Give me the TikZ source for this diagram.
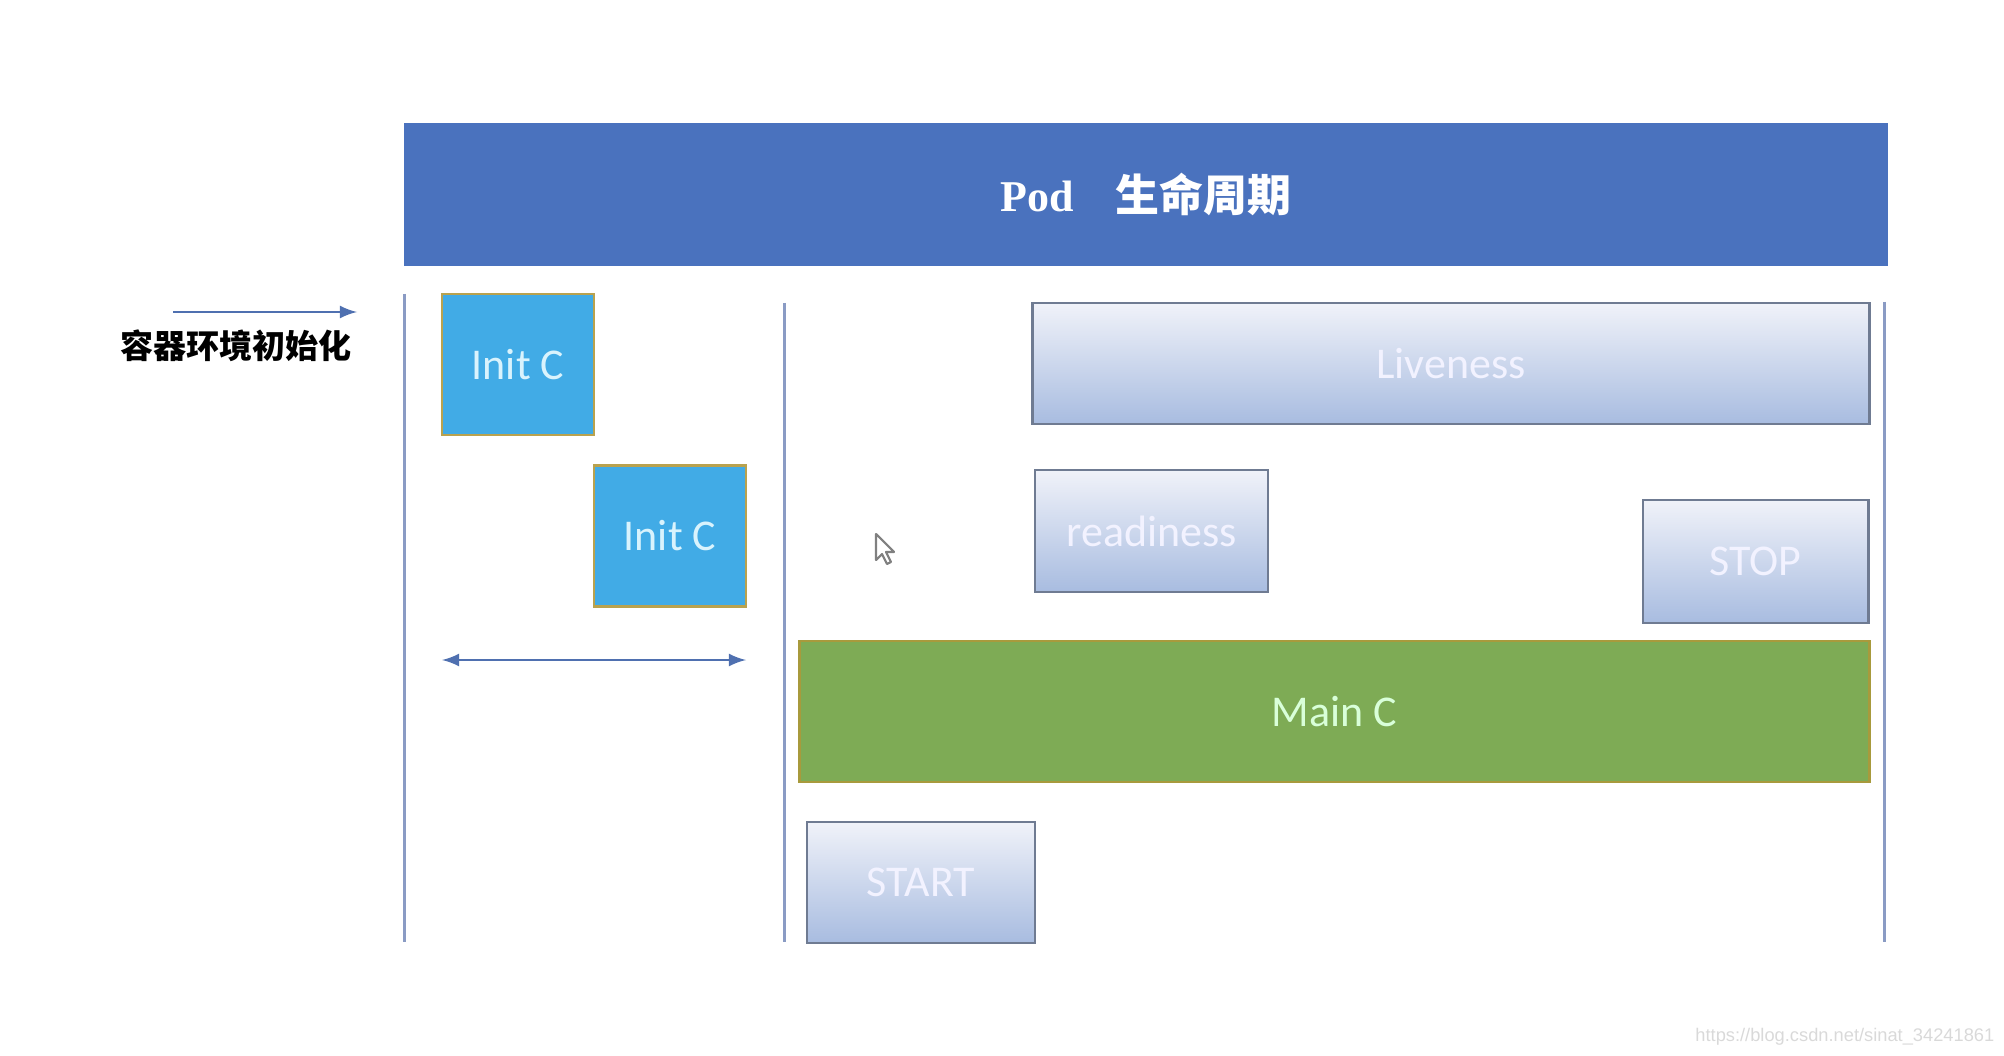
\documentclass[tikz,border=0pt]{standalone}
\usepackage{fontspec}
\setmainfont{Carlito}
\newfontfamily\cjk{Noto Sans CJK SC}
\newfontfamily\podfont{Liberation Serif}
\newfontfamily\wmfont{Liberation Sans}
\usetikzlibrary{calc}
\usetikzlibrary{arrows}

\definecolor{podblue}{HTML}{4A72BE}
\definecolor{initblue}{HTML}{41ABE6}
\definecolor{initedge}{HTML}{B9A24E}
\definecolor{maingreen}{HTML}{7EAB55}
\definecolor{mainedge}{HTML}{A89A3C}
\definecolor{gradtop}{HTML}{F0F2F9}
\definecolor{gradbot}{HTML}{A8BCE0}
\definecolor{gradedge}{HTML}{6F7B92}
\definecolor{phase}{HTML}{8A9BC4}
\definecolor{arrowblue}{HTML}{4F70B0}

\begin{document}
\begin{tikzpicture}
% one unit = one pixel of the screenshot
[
    x=0.01cm, y=-0.01cm,
    boxtext/.style={font=\fontsize{12.5}{15}\selectfont, inner sep=0pt},
    podbar/.style={fill=podblue, text=white, inner sep=0pt},
    initbox/.style={boxtext, draw=initedge, line width=0.6pt, fill=initblue,
      text=white!85!cyan, minimum width=1.52cm, minimum height=1.41cm},
    probe/.style={boxtext, draw=gradedge, line width=0.8pt, top color=gradtop,
      bottom color=gradbot, text=white!95!blue},
    mainbox/.style={boxtext, draw=mainedge, line width=0.8pt, fill=maingreen,
      text=white!85!green},
    phaseline/.style={draw=phase, line width=0.85pt},
    flow/.style={draw=arrowblue, line width=0.7pt}
]
\useasboundingbox (0,0) rectangle (2004,1055);

% title bar
\node[podbar, minimum width=14.84cm, minimum height=1.43cm] (pod) at (1146,194.5)
  {\fontsize{12.5}{15}\selectfont{\podfont\bfseries Pod}\hspace{0.42cm}{\cjk\bfseries 生命周期}};

% label on the left
\node[font=\fontsize{9.4}{11}\selectfont, inner sep=0pt] (envlabel) at (236,346)
  {\cjk\bfseries 容器环境初始化};
\coordinate (e0) at (173,312);
\coordinate (e1) at (357,312);
\draw[flow,-latex] (e0) -- (e1);

% phase borders
\coordinate (p1) at (404,294);
\coordinate (p1e) at (404,942);
\coordinate (p2) at (784,303);
\coordinate (p2e) at (784,942);
\coordinate (p3) at (1884,302);
\coordinate (p3e) at (1884,942);
\draw[phaseline] (p1) -- (p1e);
\draw[phaseline] (p2) -- (p2e);
\draw[phaseline] (p3) -- (p3e);

% init containers
\node[initbox] (initA) at (518,364.5) {Init C};
\node[initbox] (initB) at (670,536) {Init C};
\coordinate (d0) at (442,660);
\coordinate (d1) at (746,660);
\draw[flow,latex-latex] (d0) -- (d1);

% probes and hooks
\node[probe, minimum width=8.36cm, minimum height=1.21cm] (live) at (1451,363.5) {Liveness};
\node[probe, minimum width=2.33cm, minimum height=1.22cm] (ready) at (1151.5,531) {readiness};
\node[probe, minimum width=2.25cm, minimum height=1.23cm] (stop) at (1755.5,561.5) {STOP};
\node[probe, minimum width=2.28cm, minimum height=1.21cm] (start) at (921,882.5) {START};

% main container
\node[mainbox, minimum width=10.69cm, minimum height=1.41cm] (mainc) at (1334.5,711.5) {Main C};

% mouse pointer
\draw[gray, line width=0.6pt, fill=white, line join=round]
  (876,534) -- ++(0,26) -- ++(6,-6) -- ++(5,10) -- ++(4,-2) -- ++(-5,-10) -- ++(8,0) -- cycle;

% watermark
\node[anchor=east, text=black!15, inner sep=0pt, font=\wmfont\fontsize{5.2}{6}\selectfont]
  (mark) at (1995,1037) {https://blog.csdn.net/sinat\_34241861};
\end{tikzpicture}
\end{document}
